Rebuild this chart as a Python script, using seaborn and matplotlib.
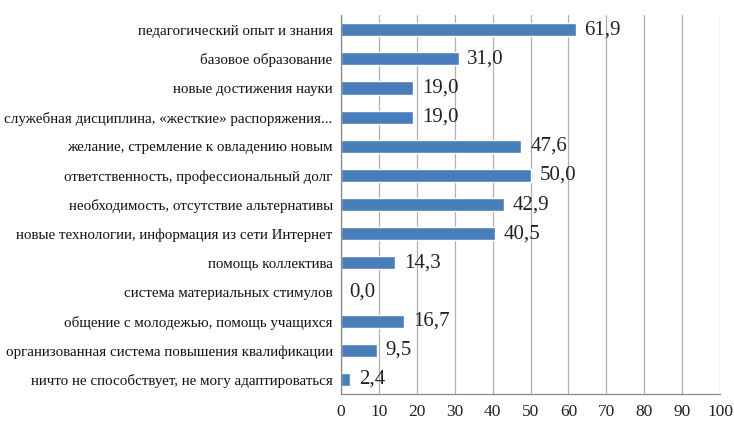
import matplotlib
matplotlib.use('Agg')
import matplotlib.pyplot as plt
import seaborn as sns
import pandas as pd
import numpy as np

# данные
categories = [
    'педагогический опыт и знания',
    'базовое образование',
    'новые достижения науки',
    'служебная дисциплина, «жесткие» распоряжения...',
    'желание, стремление к овладению новым',
    'ответственность, профессиональный долг',
    'необходимость, отсутствие альтернативы',
    'новые технологии, информация из сети Интернет',
    'помощь коллектива',
    'система материальных стимулов',
    'общение с молодежью, помощь учащихся',
    'организованная система повышения квалификации',
    'ничто не способствует, не могу адаптироваться',
]
values = [61.9, 31.0, 19.0, 19.0, 47.6, 50.0, 42.9, 40.5, 14.3, 0.0, 16.7, 9.5, 2.4]
xticks = list(range(0, 101, 10))

df = pd.DataFrame({'cat': categories, 'val': values})

sns.set_style('white')
plt.rcParams['font.family'] = ['Liberation Serif', 'DejaVu Serif']

fig = plt.figure(figsize=(7.34, 4.21), dpi=100)
ax = fig.add_axes([0.4646, 0.064, 0.5164, 0.9])

sns.barplot(data=df, y='cat', x='val', orient='h', color='#4A7EBB',
            width=0.45, saturation=1, ax=ax)

for i, v in enumerate(values):
    ax.text(v + 2.3, i, f'{v:.1f}'.replace('.', ','), va='center', ha='left',
            fontsize=15, color='#222222')

ax.set_xlim(0, 100)
ax.set_ylim(len(categories) - 0.5, -0.5)
ax.set_xticks(xticks)
ax.set_xticklabels([str(t) for t in xticks], fontsize=12.5, color='#222222')
ax.tick_params(axis='x', length=0, pad=7)
ax.set_yticks(range(len(categories)))
ax.set_yticklabels(categories, fontsize=10.8, color='#111111')
ax.tick_params(axis='y', length=0, pad=6)
ax.set_yticks(np.arange(-0.5, len(categories), 1), minor=True)
ax.tick_params(axis='y', which='minor', length=4, color='#888888', width=0.8)
ax.set_xlabel('')
ax.set_ylabel('')
ax.grid(axis='x', color='#b0b0b0', linewidth=0.9)
ax.set_axisbelow(True)
for s in ['top', 'right']:
    ax.spines[s].set_visible(False)
for s in ['left', 'bottom']:
    ax.spines[s].set_color('#888888')
    ax.spines[s].set_linewidth(0.9)

fig.savefig('out.png', dpi=100)
